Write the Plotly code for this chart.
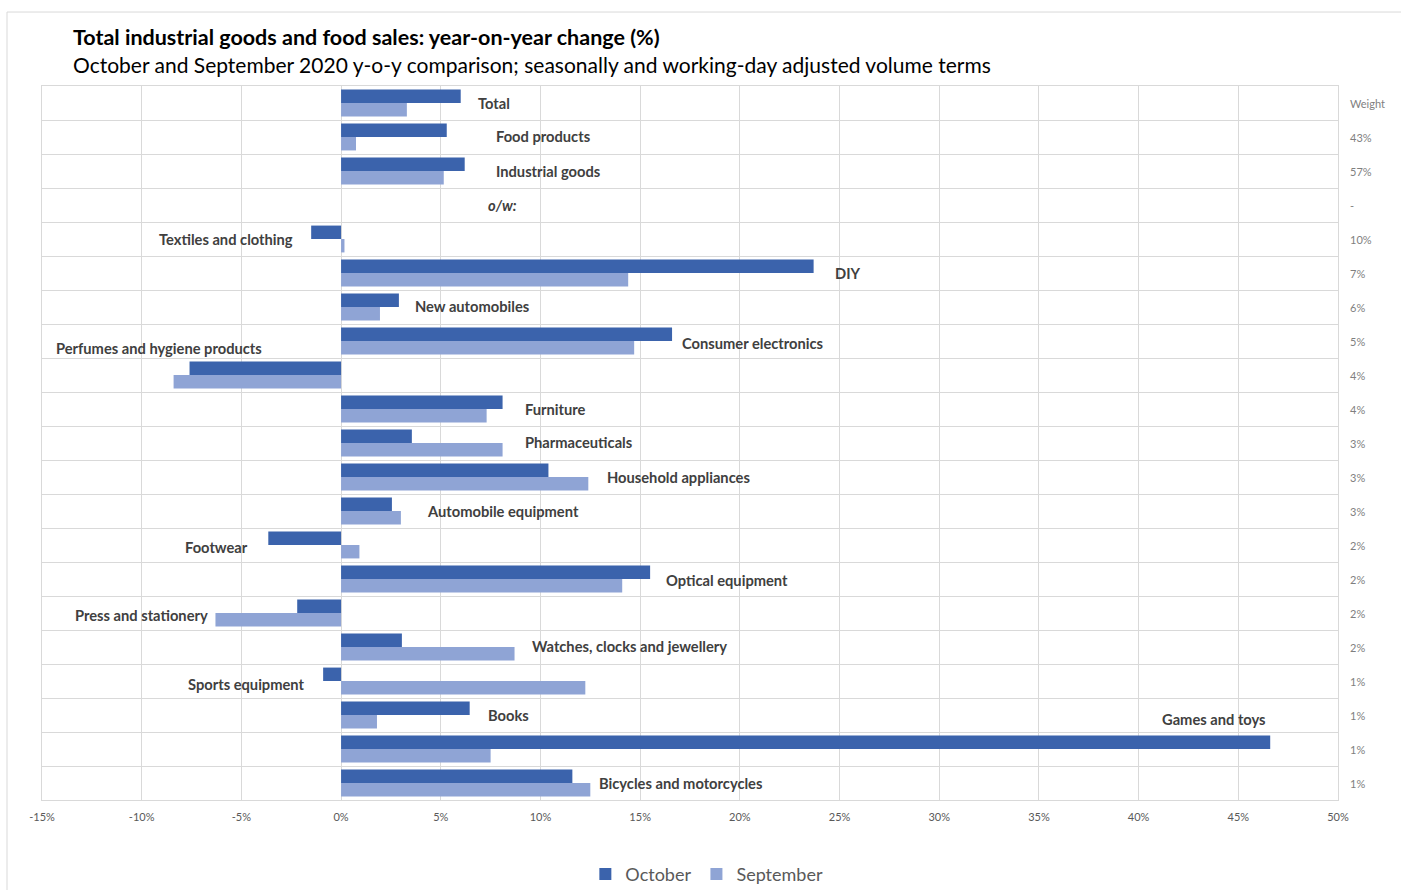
import plotly.graph_objects as go

categories = ["Total", "Food products", "Industrial goods", "o/w:", "Textiles and clothing", "DIY",
              "New automobiles", "Consumer electronics", "Perfumes and hygiene products", "Furniture",
              "Pharmaceuticals", "Household appliances", "Automobile equipment", "Footwear",
              "Optical equipment", "Press and stationery", "Watches, clocks and jewellery",
              "Sports equipment", "Books", "Games and toys", "Bicycles and motorcycles"]
october = [6.0, 5.3, 6.2, None, -1.5, 23.7, 2.9, 16.6, -7.6, 8.1, 3.55, 10.4, 2.55, -3.65,
           15.5, -2.2, 3.05, -0.9, 6.45, 46.6, 11.6]
september = [3.3, 0.75, 5.15, None, 0.17, 14.4, 1.95, 14.7, -8.4, 7.3, 8.1, 12.4, 3.0, 0.92,
             14.1, -6.3, 8.7, 12.25, 1.8, 7.5, 12.5]
weights = ["Weight", "43%", "57%", "-", "10%", "7%", "6%", "5%", "4%", "4%", "3%", "3%", "3%",
           "2%", "2%", "2%", "2%", "1%", "1%", "1%", "1%"]
x_tick_values = [-15, -10, -5, 0, 5, 10, 15, 20, 25, 30, 35, 40, 45, 50]
x_tick_labels = ["-15%", "-10%", "-5%", "0%", "5%", "10%", "15%", "20%", "25%", "30%", "35%",
                 "40%", "45%", "50%"]

title = "Total industrial goods and food sales: year-on-year change (%)"
subtitle = "October and September 2020 y-o-y comparison; seasonally and working-day adjusted volume terms"

# label placement (layout only): x in axis units, row shift, anchor
label_layout = [
    (6.75, 0.0, "left"), (7.65, -0.03, "left"), (7.65, 0.0, "left"), (8.1, 0.0, "center"),
    (-2.3, 0.0, "right"), (24.65, 0.0, "left"), (3.6, -0.03, "left"), (17.0, 0.05, "left"),
    (-14.4, -0.8, "left"), (9.1, 0.0, "left"), (9.1, -0.03, "left"), (13.25, 0.0, "left"),
    (4.2, 0.0, "left"), (-4.55, 0.06, "right"), (16.2, 0.03, "left"), (-6.55, 0.06, "right"),
    (9.5, -0.03, "left"), (-1.7, 0.09, "right"), (7.25, 0.0, "left"), (41.05, -0.88, "left"),
    (12.85, 0.0, "left"),
]

rows = list(range(len(categories)))
dark = "#3B63AC"
light = "#8FA4D5"
grid = "#D9D9D9"

fig = go.Figure()
fig.add_trace(go.Bar(y=rows, x=october, orientation="h", name="October",
                     marker=dict(color=dark, line=dict(width=0)), hoverinfo="x+name"))
fig.add_trace(go.Bar(y=rows, x=september, orientation="h", name="September",
                     marker=dict(color=light, line=dict(width=0)), hoverinfo="x+name"))

annotations = []
for i, (cat, (lx, dy, anc)) in enumerate(zip(categories, label_layout)):
    txt = "<b><i>%s</i></b>" % cat if cat == "o/w:" else "<b>%s</b>" % cat
    annotations.append(dict(x=lx, y=i + dy, xref="x", yref="y", text=txt, showarrow=False,
                            xanchor=anc, yanchor="middle",
                            font=dict(family="Lato", size=14.7, color="#404040")))
for i, w in enumerate(weights):
    annotations.append(dict(x=1.008, y=i, xref="paper", yref="y", text=w, showarrow=False,
                            xanchor="left", yanchor="middle",
                            font=dict(family="Lato", size=11, color="#7F7F7F")))
annotations.append(dict(x=0.0224, y=1.0686, xref="paper", yref="paper", text="<b>%s</b>" % title,
                        showarrow=False, xanchor="left", yanchor="middle",
                        font=dict(family="Lato", size=21.5, color="#000000")))
annotations.append(dict(x=0.0224, y=1.0308, xref="paper", yref="paper", text=subtitle,
                        showarrow=False, xanchor="left", yanchor="middle",
                        font=dict(family="Lato", size=21, color="#000000")))

fig.update_layout(
    width=1401, height=890,
    margin=dict(l=42, r=63, t=86, b=90, autoexpand=False),
    paper_bgcolor="white", plot_bgcolor="white",
    barmode="group", bargap=0.21, bargroupgap=0,
    annotations=annotations,
    showlegend=True,
    legend=dict(orientation="h", x=0.513, y=-0.104, xanchor="center", yanchor="middle",
                font=dict(family="Lato", size=18, color="#595959"), itemwidth=30,
                traceorder="normal"),
    shapes=[dict(type="rect", xref="paper", yref="paper", x0=-0.027, x1=1.2, y0=-0.3, y1=1.1036,
                 line=dict(color=grid, width=1), fillcolor="rgba(0,0,0,0)", layer="below")],
)
fig.update_xaxes(range=[-15, 50], tickvals=x_tick_values, ticktext=x_tick_labels,
                 showgrid=True, gridcolor=grid, gridwidth=1, zeroline=False,
                 showline=True, linecolor=grid, mirror=True, ticks="", ticklabelstandoff=7,
                 automargin=False,
                 tickfont=dict(family="Lato", size=11, color="#595959"))
fig.update_yaxes(range=[20.5, -0.5], tickvals=[r + 0.5 for r in range(-1, len(categories))],
                 showticklabels=False, showgrid=True, gridcolor=grid, gridwidth=1,
                 zeroline=False, showline=True, linecolor=grid, mirror=True, ticks="",
                 automargin=False)

fig.write_html("out.html")
